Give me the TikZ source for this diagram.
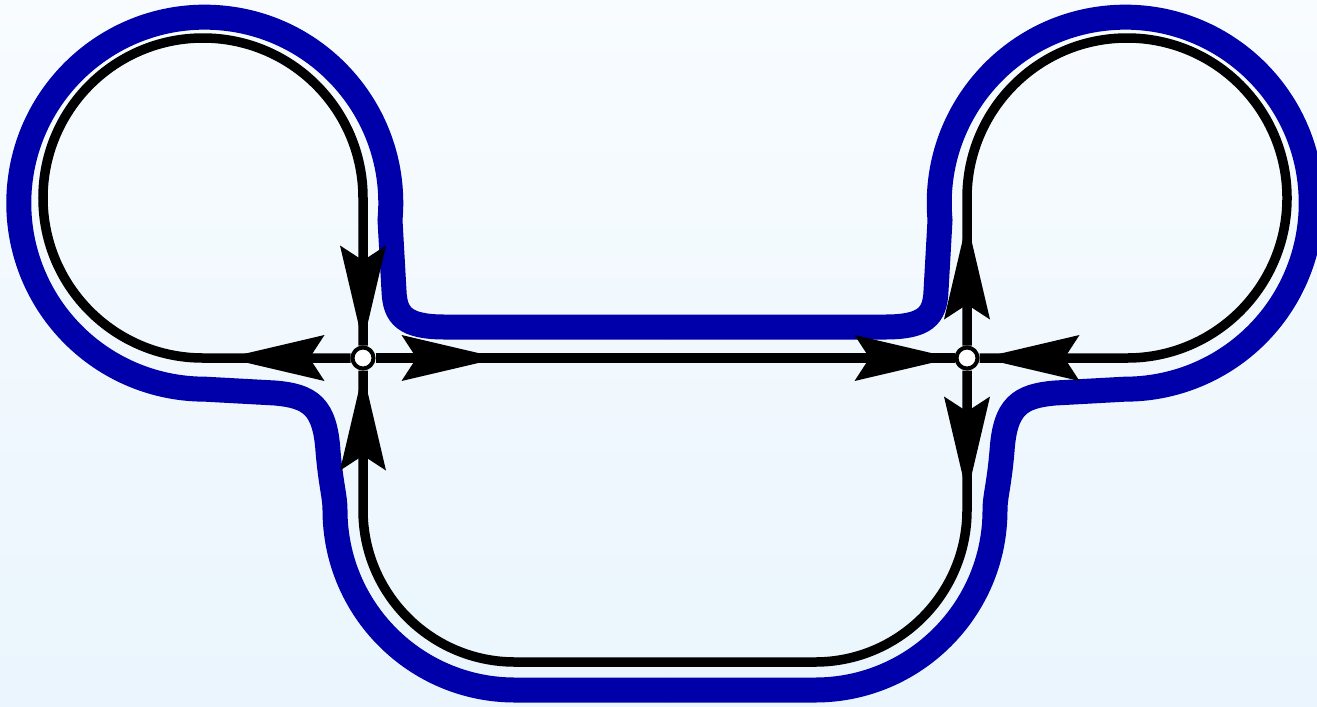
\documentclass[tikz,border=0pt]{standalone}
\usepackage{tikz}
\usetikzlibrary{arrows.meta, positioning, decorations.markings}

\definecolor{ribbonblue}{RGB}{0,0,170}
\definecolor{bgtop}{RGB}{248,252,255}
\definecolor{bgbottom}{RGB}{234,245,253}

\begin{document}
\begin{tikzpicture}[on grid,
    vertex/.style={circle, draw, fill=white, line width=0.04cm, minimum size=0.21cm, inner sep=0pt},
    link/.style={line width=0.095cm},
    ribbon/.style={draw=ribbonblue, line width=0.25cm},
    twoarrows/.style 2 args={postaction={decorate}, decoration={markings,
        mark=at position #1 with {\arrow{Stealth[length=0.98cm, width=0.46cm, inset=0.15cm, line width=0pt]}},
        mark=at position #2 with {\arrow{Stealth[length=0.98cm, width=0.46cm, inset=0.15cm, line width=0pt]}}}}]
    \useasboundingbox (0,0) rectangle (13.17,7.06);
    \shade[top color=bgtop, bottom color=bgbottom] (0,0) rectangle (13.17,7.06);

    % face boundary, left half and its mirror image
    \foreach \s/\o in {1/0, -1/13.3} {
        \begin{scope}[xshift=\o cm, xscale=\s]
            \draw[ribbon] (6.65,3.79) -- (4.45,3.79)
                .. controls (4.05,3.79) and (3.95,3.90) .. (3.94,4.15)
                -- (3.90,4.86) arc[start angle=-5.2, end angle=270, radius=1.86]
                -- (2.75,3.13) .. controls (3.10,3.10) and (3.25,3.00) .. (3.28,2.55)
                .. controls (3.31,2.20) and (3.35,2.10) .. (3.35,1.96)
                arc[start angle=180, end angle=270, radius=1.80] -- (6.65,0.16);
        \end{scope}
    }

    \node[vertex] (L) at (3.63,3.48) {};
    \node[vertex, right=6.04cm of L] (R) {};
    \coordinate[left=1.6cm of L] (Lloop);
    \coordinate[above=1.6cm of R] (Rloop);
    \coordinate[below=1.52cm of R] (Rdown);
    \coordinate[below right=3.04cm and 1.52cm of L] (Lbot);

    \draw[link, twoarrows={1.24cm}{-0.02cm}] (L) -- (Lloop)
        arc[start angle=270, end angle=0, radius=1.6] -- (L);
    \draw[link, twoarrows={1.24cm}{-0.02cm}] (L) -- (R);
    \draw[link, twoarrows={1.24cm}{-0.02cm}] (R) -- (Rloop)
        arc[start angle=180, end angle=-90, radius=1.6] -- (R);
    \draw[link, twoarrows={1.24cm}{-0.02cm}] (R) -- (Rdown)
        arc[start angle=0, end angle=-90, radius=1.52] -- (Lbot)
        arc[start angle=270, end angle=180, radius=1.52] -- (L);
\end{tikzpicture}
\end{document}
